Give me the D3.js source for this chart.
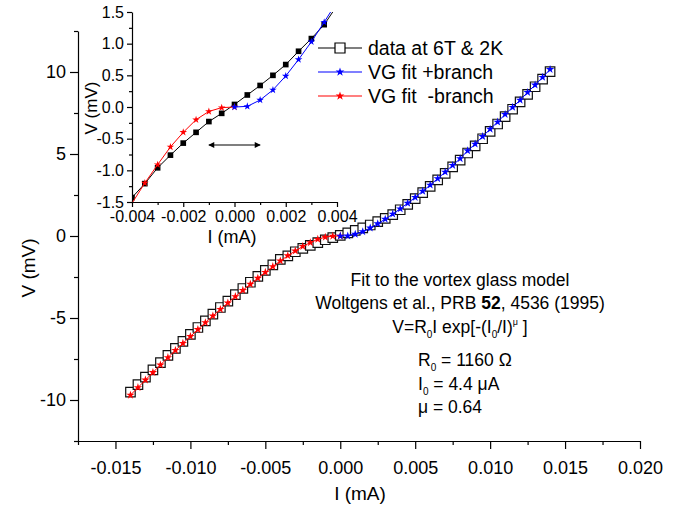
<!DOCTYPE html>
<html><head><meta charset="utf-8">
<script src="https://cdn.jsdelivr.net/npm/d3@7/dist/d3.min.js"></script>
<style>
body{margin:0;background:#fff}
text{font-family:"Liberation Sans",Arial,sans-serif;fill:#000}
</style>
</head><body>
<svg id="c" width="682" height="506"></svg>
<script>
// ---------- data (I in mA, V in mV) ----------
const dataI = [-0.014,-0.0135,-0.013,-0.0125,-0.012,-0.0115,-0.011,-0.0105,-0.010,-0.0095,-0.009,-0.0085,-0.008,-0.0075,-0.007,-0.0065,-0.006,-0.0055,-0.005,-0.0045,-0.004,-0.0035,-0.003,-0.0025,-0.002,-0.0015,-0.001,-0.0005,0,
  0.0005,0.001,0.0015,0.002,0.0025,0.003,0.0035,0.004,0.0045,0.005,0.0055,0.006,0.0065,0.007,0.0075,0.008,0.0085,0.009,0.0095,0.010,0.0105,0.011,0.0115,0.012,0.0125,0.013,0.0135,0.014];
const dataV = [-9.52,-9.06,-8.61,-8.16,-7.72,-7.28,-6.85,-6.42,-6.00,-5.58,-5.17,-4.76,-4.36,-3.97,-3.58,-3.20,-2.82,-2.46,-2.10,-1.76,-1.43,-1.21,-0.96,-0.76,-0.57,-0.40,-0.23,-0.10,0.04,
  0.19,0.34,0.50,0.67,0.88,1.08,1.30,1.60,1.93,2.28,2.65,3.03,3.42,3.82,4.22,4.63,5.06,5.49,5.93,6.38,6.83,7.28,7.73,8.18,8.64,9.10,9.56,10.02];

const fitPosI = [0,0.0005,0.001,0.0015,0.002,0.0025,0.003,0.0035,0.004,0.0045,0.005,0.0055,0.006,0.0065,0.007,0.0075,0.008,0.0085,0.009,0.0095,0.010,0.0105,0.011,0.0115,0.012,0.0125,0.013,0.0135,0.014];
const fitPosV = [0,0.01,0.11,0.27,0.49,0.75,1.03,1.34,1.66,2.00,2.36,2.73,3.11,3.50,3.90,4.31,4.72,5.20,5.61,6.07,6.52,6.95,7.42,7.85,8.29,8.76,9.21,9.68,10.16];

const fitNegI = [-0.014,-0.0135,-0.013,-0.0125,-0.012,-0.0115,-0.011,-0.0105,-0.010,-0.0095,-0.009,-0.0085,-0.008,-0.0075,-0.007,-0.0065,-0.006,-0.0055,-0.005,-0.0045,-0.004,-0.0035,-0.003,-0.0025,-0.002,-0.0015,-0.001,-0.0005,0];
const fitNegV = [-9.70,-9.24,-8.78,-8.32,-7.86,-7.41,-6.97,-6.54,-6.12,-5.70,-5.28,-4.87,-4.47,-4.08,-3.69,-3.31,-2.94,-2.57,-2.21,-1.86,-1.52,-1.20,-0.91,-0.63,-0.40,-0.20,-0.07,-0.01,0];

// ticks
const mainXTicks = [-0.015,-0.010,-0.005,0.000,0.005,0.010,0.015,0.020];
const mainXLabels = ["-0.015","-0.010","-0.005","0.000","0.005","0.010","0.015","0.020"];
const mainXMinor = [-0.0175,-0.0125,-0.0075,-0.0025,0.0025,0.0075,0.0125,0.0175];
const mainYTicks = [-10,-5,0,5,10];
const mainYLabels = ["-10","-5","0","5","10"];
const mainYMinor = [-12.5,-7.5,-2.5,2.5,7.5,12.5];

const insXTicks = [-0.004,-0.002,0.000,0.002,0.004];
const insXLabels = ["-0.004","-0.002","0.000","0.002","0.004"];
const insXMinor = [-0.003,-0.001,0.001,0.003];
const insYTicks = [-1.5,-1.0,-0.5,0.0,0.5,1.0,1.5];
const insYLabels = ["-1.5","-1.0","-0.5","0.0","0.5","1.0","1.5"];
const insYMinor = [-1.25,-0.75,-0.25,0.25,0.75,1.25];
const arrowI = [-0.001, 0.001];
const arrowV = -0.6;

const legendLabels = ["data at 6T & 2K","VG fit +branch","VG fit  -branch"];

// ---------- drawing ----------
const svg = d3.select("#c");
svg.append("rect").attr("width",682).attr("height",506).attr("fill","#fff");

const data = dataI.map((d,i)=>({i:d,v:dataV[i]}));
const pos = fitPosI.map((d,i)=>({i:d,v:fitPosV[i]}));
const neg = fitNegI.map((d,i)=>({i:d,v:fitNegV[i]}));

function axes(g, x, y, o){
  g.append("g").attr("transform",`translate(0,${y.range()[0]})`)
    .call(d3.axisBottom(x).tickValues(o.xt).tickFormat((d,i)=>o.xl[i]).tickSize(o.big).tickSizeOuter(0).tickPadding(o.xpad));
  g.append("g").attr("transform",`translate(0,${y.range()[0]})`)
    .call(d3.axisBottom(x).tickValues(o.xm).tickFormat("").tickSize(o.small).tickSizeOuter(0))
    .select(".domain").remove();
  g.append("g").attr("transform",`translate(${x.range()[0]},0)`)
    .call(d3.axisLeft(y).tickValues(o.yt).tickFormat((d,i)=>o.yl[i]).tickSize(o.big).tickSizeOuter(0).tickPadding(o.ypad));
  g.append("g").attr("transform",`translate(${x.range()[0]},0)`)
    .call(d3.axisLeft(y).tickValues(o.ym).tickFormat("").tickSize(o.small).tickSizeOuter(0))
    .select(".domain").remove();
  g.selectAll(".tick text").attr("font-size",o.fs).attr("font-family",'"Liberation Sans",Arial,sans-serif').attr("fill","#000");
  g.selectAll(".tick line, .domain").attr("stroke","#000").attr("stroke-width",1.2);
}

// main scales
const x = d3.scaleLinear().domain([-0.0175,0.020]).range([78,640]);
const y = d3.scaleLinear().domain([-12.5,12.5]).range([441,31]);
const gm = svg.append("g");
axes(gm, x, y, {xt:mainXTicks,xl:mainXLabels,xm:mainXMinor,yt:mainYTicks,yl:mainYLabels,ym:mainYMinor,big:8,small:4,xpad:12,ypad:4,fs:18});

svg.append("text").attr("x",360).attr("y",500).attr("text-anchor","middle").attr("font-size",19).text("I (mA)");
svg.append("text").attr("transform","translate(35,268) rotate(-90)").attr("text-anchor","middle").attr("font-size",19).text("V (mV)");

const line = (xs,ys)=>d3.line().x(d=>xs(d.i)).y(d=>ys(d.v));
const star = d3.symbol().type(d3.symbolStar);
const sq = d3.symbol().type(d3.symbolSquare);

svg.append("clipPath").attr("id","cm").append("rect").attr("x",78).attr("y",31).attr("width",562).attr("height",410);
const pm = svg.append("g").attr("clip-path","url(#cm)");
pm.append("path").datum(data).attr("d",line(x,y)).attr("fill","none").attr("stroke","#000").attr("stroke-width",1);
pm.selectAll(".ds").data(data).enter().append("path").attr("transform",d=>`translate(${x(d.i)},${y(d.v)})`)
  .attr("d",sq.size(90)()).attr("fill","#fff").attr("stroke","#111").attr("stroke-width",1.2);
[[neg,"#ff0000"],[pos,"#0000ff"]].forEach(([s,c])=>{
  pm.append("path").datum(s).attr("d",line(x,y)).attr("fill","none").attr("stroke",c).attr("stroke-width",1);
  pm.selectAll(null).data(s).enter().append("path").attr("transform",d=>`translate(${x(d.i)},${y(d.v)})`)
    .attr("d",star.size(22)()).attr("fill",c);
});

// inset
const xi = d3.scaleLinear().domain([-0.004,0.004]).range([132,337]);
const yi = d3.scaleLinear().domain([-1.5,1.5]).range([202,12]);
const gi = svg.append("g");
svg.append("clipPath").attr("id","ci").append("rect").attr("x",132).attr("y",12).attr("width",205).attr("height",190);
const pi = svg.append("g").attr("clip-path","url(#ci)");
pi.append("path").datum(data).attr("d",line(xi,yi)).attr("fill","none").attr("stroke","#000").attr("stroke-width",1);
pi.selectAll(null).data(data.filter(d=>d.i>=-0.004&&d.i<=0.004&&d.v>=-1.5&&d.v<=1.5)).enter().append("path")
  .attr("transform",d=>`translate(${xi(d.i)},${yi(d.v)})`).attr("d",sq.size(32)()).attr("fill","#000");
[[neg,"#ff0000"],[pos,"#0000ff"]].forEach(([s,c])=>{
  pi.append("path").datum(s).attr("d",line(xi,yi)).attr("fill","none").attr("stroke",c).attr("stroke-width",1);
  pi.selectAll(null).data(s.filter(d=>d.i>=-0.004&&d.i<=0.004&&d.v>=-1.5&&d.v<=1.5)).enter().append("path")
    .attr("transform",d=>`translate(${xi(d.i)},${yi(d.v)})`).attr("d",star.size(18)()).attr("fill",c);
});
axes(gi, xi, yi, {xt:insXTicks,xl:insXLabels,xm:insXMinor,yt:insYTicks,yl:insYLabels,ym:insYMinor,big:5,small:3,xpad:4,ypad:3,fs:16});
svg.append("text").attr("x",232).attr("y",243).attr("text-anchor","middle").attr("font-size",18).text("I (mA)");
svg.append("text").attr("transform","translate(97,108) rotate(-90)").attr("text-anchor","middle").attr("font-size",17).text("V (mV)");

// arrow
const defs = svg.append("defs");
defs.append("marker").attr("id","ah").attr("viewBox","0 0 10 10").attr("refX",9).attr("refY",5)
  .attr("markerWidth",8).attr("markerHeight",6).attr("orient","auto-start-reverse").attr("markerUnits","userSpaceOnUse")
  .append("path").attr("d","M0,0L10,5L0,10z").attr("fill","#000");
svg.append("line").attr("x1",xi(arrowI[0])).attr("x2",xi(arrowI[1])).attr("y1",yi(arrowV)).attr("y2",yi(arrowV))
  .attr("stroke","#000").attr("stroke-width",1.2).attr("marker-start","url(#ah)").attr("marker-end","url(#ah)");

// legend
const lg = svg.append("g");
const legColors = ["#000","#0000ff","#ff0000"];
legendLabels.forEach((t,k)=>{
  const cy = 48 + k*24;
  lg.append("line").attr("x1",318).attr("x2",362).attr("y1",cy).attr("y2",cy).attr("stroke",legColors[k]).attr("stroke-width",1.2);
  if(k===0){
    lg.append("path").attr("transform",`translate(340,${cy})`).attr("d",sq.size(100)()).attr("fill","#fff").attr("stroke","#000").attr("stroke-width",1.2);
  } else {
    lg.append("path").attr("transform",`translate(340,${cy})`).attr("d",star.size(24)()).attr("fill",legColors[k]);
  }
  lg.append("text").attr("x",368).attr("y",cy+7).attr("font-size",19.5).attr("xml:space","preserve").style("white-space","pre").text(t);
});

// annotation
const an = svg.append("g").attr("font-size",17.5);
an.append("text").attr("x",460).attr("y",286).attr("text-anchor","middle").text("Fit to the vortex glass model");
const t2 = an.append("text").attr("x",460).attr("y",309).attr("text-anchor","middle");
t2.append("tspan").text("Woltgens et al., PRB ");
t2.append("tspan").attr("font-weight","bold").text("52");
t2.append("tspan").text(", 4536 (1995)");
const t3 = an.append("text").attr("x",460).attr("y",333).attr("text-anchor","middle");
t3.append("tspan").text("V=R");
t3.append("tspan").attr("font-size",10).attr("dy",5).text("0");
t3.append("tspan").attr("dy",-5).text("I exp[-(I");
t3.append("tspan").attr("font-size",10).attr("dy",5).text("0");
t3.append("tspan").attr("dy",-5).text("/I)");
t3.append("tspan").attr("font-size",9).attr("dy",-8).text("μ");
t3.append("tspan").attr("dy",8).text(" ]");
function sub(yb, a, s, b){
  const t = an.append("text").attr("x",418).attr("y",yb);
  t.append("tspan").text(a);
  t.append("tspan").attr("font-size",10).attr("dy",5).text(s);
  t.append("tspan").attr("dy",-5).text(b);
}
sub(366,"R","0"," = 1160 Ω");
sub(390,"I","0"," = 4.4 μA");
an.append("text").attr("x",418).attr("y",413).text("μ = 0.64");
</script>
</body></html>
